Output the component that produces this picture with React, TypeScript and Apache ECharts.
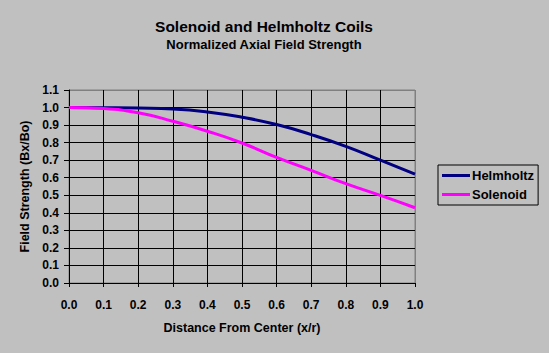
import React, { useEffect, useRef } from "react";
import * as echarts from "echarts";

const distances = [0.0, 0.1, 0.2, 0.3, 0.4, 0.5, 0.6, 0.7, 0.8, 0.9, 1.0];
const helmholtz = [1.0, 0.999, 0.997, 0.992, 0.975, 0.945, 0.903, 0.846, 0.779, 0.7, 0.621];
const solenoid = [1.0, 0.994, 0.97, 0.922, 0.865, 0.798, 0.716, 0.642, 0.566, 0.499, 0.429];

const FONT = 'Arial, "Liberation Sans", sans-serif';

export default function App() {
  const ref = useRef<HTMLDivElement>(null);
  useEffect(() => {
    if (!ref.current) return;
    const chart = echarts.init(ref.current, undefined, { renderer: "svg" });
    const yColors = Array.from({ length: 12 }, (_, i) => (i === 11 ? "#808080" : "#000000"));
    const xColors = Array.from({ length: 11 }, (_, i) => (i === 10 ? "#808080" : "#000000"));
    chart.setOption({
      animation: false,
      backgroundColor: "#C0C0C0",
      title: {
        text: "Solenoid and Helmholtz Coils",
        subtext: "Normalized Axial Field Strength",
        left: 259,
        textAlign: "center",
        top: 13,
        itemGap: 4,
        textStyle: { fontFamily: FONT, fontWeight: "bold", fontSize: 15.5, color: "#000" },
        subtextStyle: { fontFamily: FONT, fontWeight: "bold", fontSize: 13, color: "#000" },
      },
      legend: {
        orient: "vertical",
        left: 438,
        top: 165,
        width: 101,
        padding: [4, 4, 4, 4],
        itemGap: 6,
        itemWidth: 28,
        itemHeight: 3,
        icon: "rect",
        borderColor: "#000",
        borderWidth: 1,
        textStyle: { fontFamily: FONT, fontWeight: "bold", fontSize: 13, color: "#000", padding: [0, 0, 0, -3] },
        data: ["Helmholtz", "Solenoid"],
      },
      grid: {
        left: 69,
        right: 134,
        top: 90,
        bottom: 70,
        show: true,
        backgroundColor: "#C0C0C0",
        borderColor: "#808080",
        borderWidth: 1,
      },
      xAxis: {
        type: "value",
        min: 0,
        max: 1,
        interval: 0.1,
        name: "Distance From Center (x/r)",
        nameLocation: "middle",
        nameGap: 38,
        nameTextStyle: { fontFamily: FONT, fontWeight: "bold", fontSize: 12.5, color: "#000" },
        axisLine: { show: true, lineStyle: { color: "#000", width: 1 } },
        axisTick: { show: true, length: 4, lineStyle: { color: "#000" } },
        axisLabel: {
          fontFamily: FONT,
          fontWeight: "bold",
          fontSize: 12,
          color: "#000",
          margin: 16,
          formatter: (v: number) => v.toFixed(1),
        },
        splitLine: { show: true, lineStyle: { color: xColors, width: 1 } },
      },
      yAxis: {
        type: "value",
        min: 0,
        max: 1.1,
        interval: 0.1,
        name: "Field Strength (Bx/Bo)",
        nameLocation: "middle",
        nameGap: 36,
        nameTextStyle: { fontFamily: FONT, fontWeight: "bold", fontSize: 12.5, color: "#000" },
        axisLine: { show: true, lineStyle: { color: "#000", width: 1 } },
        axisTick: { show: true, length: 5, lineStyle: { color: "#000" } },
        axisLabel: {
          fontFamily: FONT,
          fontWeight: "bold",
          fontSize: 12,
          color: "#000",
          margin: 10,
          formatter: (v: number) => v.toFixed(1),
        },
        splitLine: { show: true, lineStyle: { color: yColors, width: 1 } },
      },
      series: [
        {
          name: "Helmholtz",
          type: "line",
          data: distances.map((d, i) => [d, helmholtz[i]]),
          smooth: true,
          showSymbol: false,
          symbol: "none",
          lineStyle: { color: "#000080", width: 3 },
          itemStyle: { color: "#000080" },
        },
        {
          name: "Solenoid",
          type: "line",
          data: distances.map((d, i) => [d, solenoid[i]]),
          smooth: true,
          showSymbol: false,
          symbol: "none",
          lineStyle: { color: "#FF00FF", width: 3 },
          itemStyle: { color: "#FF00FF" },
        },
      ],
    });
    return () => chart.dispose();
  }, []);
  return (
    <div
      ref={ref}
      style={{ position: "absolute", left: 0, top: 0, width: 549, height: 353, background: "#C0C0C0" }}
    />
  );
}
